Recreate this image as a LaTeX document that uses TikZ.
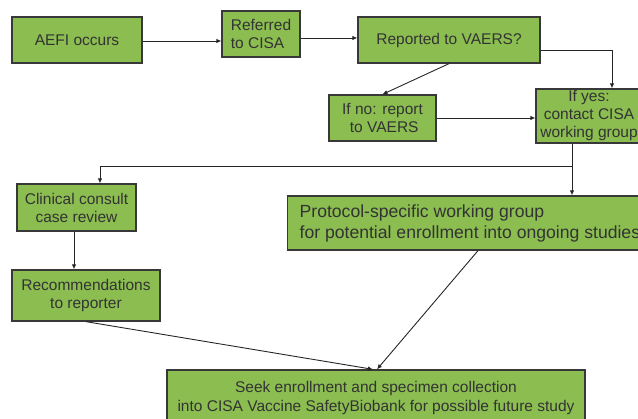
\documentclass[tikz,border=0pt]{standalone}
\usepackage{fontspec}
\setmainfont{Liberation Sans}
\usetikzlibrary{arrows.meta}
\definecolor{boxgreen}{HTML}{8BBD50}
\definecolor{boxline}{HTML}{383838}
\definecolor{txt}{HTML}{333333}
\begin{document}
\begin{tikzpicture}[x=1pt,y=-1pt,
  box/.style={draw=boxline, line width=1.3pt, fill=boxgreen, text=txt,
    font=\fontsize{15.5}{18}\selectfont, inner sep=0pt, align=center},
  arr/.style={draw=black!85, line width=0.9pt, -{Latex[length=5pt,width=4.5pt]}},
  ln/.style={draw=black!85, line width=0.9pt}]
\useasboundingbox (0,0) rectangle (638,419);
\clip (0,0) rectangle (638,419);
\node[box, minimum width=130pt, minimum height=46pt] (aefi) at (77,40) {AEFI occurs};
\node[box, minimum width=78pt, minimum height=46pt, align=left] (ref) at (261,34) {Referred\\to CISA};
\node[box, minimum width=182pt, minimum height=46pt] (rep) at (449,40) {Reported to VAERS?};
\node[box, minimum width=107pt, minimum height=46pt] (no) at (382.5,118) {If no: report\\\hphantom{i}to VAERS};
\node[box, minimum width=106pt, minimum height=54pt] (yes) at (589,116) {If yes:\\contact CISA\\working group};
\node[box, minimum width=119pt, minimum height=47pt] (clin) at (76.5,207.5) {Clinical consult\\case review};
\node[box, minimum width=148pt, minimum height=51pt] (recs) at (86,295.5) {Recommendations\\to reporter};
\node[box, anchor=west, minimum height=54pt, inner xsep=12pt, align=left,
  font=\fontsize{17.6}{21}\selectfont] (prot) at (287,223)
  {Protocol-specific working group\\for potential enrollment into ongoing studies};
\node[box, minimum width=418pt, minimum height=56pt,
  font=\fontsize{15.5}{19}\selectfont] (seek) at (376,398)
  {Seek enrollment and specimen collection\\into CISA Vaccine SafetyBiobank for possible future study};

\draw[arr] ([yshift=-1pt]aefi.east) -- ([yshift=-1pt]aefi.east -| ref.west);
\draw[arr] ([yshift=-4pt]ref.east) -- ([yshift=-4pt]ref.east -| rep.west);
\draw[arr] ([yshift=-10pt]rep.east) -| ([xshift=23pt]yes.north);
\draw[arr] (rep.south) -- (no.north);
\draw[arr] (no.east) -- (no.east -| yes.west);
\coordinate (split) at ([shift={(-17pt,-23pt)}]yes.south);
\draw[ln] ([xshift=-17pt]yes.south) -- (split);
\draw[arr] (split) -- (split |- prot.north);
\draw[arr] (split) -| ([xshift=23.5pt]clin.north);
\draw[arr] ([xshift=-2.5pt]clin.south) -- ([xshift=-2.5pt]clin.south |- recs.north);
\draw[arr] (recs.south) -- ([xshift=-3pt]seek.north);
\draw[arr] ([xshift=191pt]prot.south west) -- ([xshift=1pt]seek.north);
\end{tikzpicture}
\end{document}
